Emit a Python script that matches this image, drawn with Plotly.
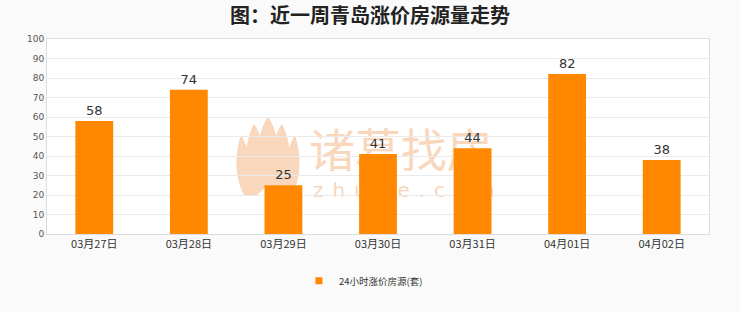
import plotly.graph_objects as go
import base64

categories = ["03月27日", "03月28日", "03月29日", "03月30日", "03月31日", "04月01日", "04月02日"]
values = [58, 74, 25, 41, 44, 82, 38]
series_name = "24小时涨价房源(套)"
title_text = "图：近一周青岛涨价房源量走势"
y_ticks = list(range(0, 101, 10))

wm = "#f8d7bc"
svg = f'''<svg xmlns="http://www.w3.org/2000/svg" width="275" height="85" viewBox="0 0 275 85">
<g fill="{wm}">
<path d="M33 2 C44 16 46 45 40 80 L26 80 C20 45 22 16 33 2 Z"/>
<path d="M19 9 C29 22 31 50 27 80 L16 80 C8 55 9 28 19 9 Z"/>
<path d="M47 9 C57 28 58 55 50 80 L39 80 C35 50 37 22 47 9 Z"/>
<path d="M6 20 C15 34 18 58 17 80 L9 80 C0 64 -1 40 6 20 Z"/>
<path d="M60 20 C67 40 66 64 57 80 L49 80 C48 58 51 34 60 20 Z"/>
</g>
<path d="M20 82 L33 70 L46 82 Z" fill="white"/>
<text x="74" y="52" font-family="Noto Sans CJK SC" font-size="46" fill="{wm}">诸葛找房</text>
<text x="78" y="82" font-family="DejaVu Sans" font-size="20" letter-spacing="9" fill="{wm}">zhuge.com</text>
</svg>'''
uri = "data:image/svg+xml;base64," + base64.b64encode(svg.encode("utf-8")).decode()

fig = go.Figure()
fig.add_trace(go.Bar(
    x=categories, y=values, name=series_name, showlegend=False,
    marker=dict(color="#ff8800", line=dict(width=0)),
    width=0.4,
    text=[str(v) for v in values], textposition="outside",
    textfont=dict(size=13, color="#333333", family="DejaVu Sans"),
    cliponaxis=False,
))
fig.add_trace(go.Scatter(
    x=[None], y=[None], mode="markers", name=series_name,
    marker=dict(symbol="square", size=7, color="#ff8800"),
))

fig.update_layout(
    width=740, height=312,
    margin=dict(l=47, r=31, t=39, b=78),
    paper_bgcolor="#fafafa",
    plot_bgcolor="#ffffff",
    title=dict(text="<b>" + title_text + "</b>", x=0.5, xanchor="center", y=0.95, yanchor="middle",
               font=dict(size=20, color="#222222", family="Noto Sans CJK SC")),
    showlegend=True,
    legend=dict(orientation="h", x=0.478, xanchor="center", y=-0.24, yanchor="middle",
                font=dict(size=9.5, color="#333333", family="Noto Sans CJK SC"),
                bgcolor="rgba(0,0,0,0)", itemwidth=30),
    images=[dict(source=uri, xref="paper", yref="paper", x=0.284, y=0.61,
                 sizex=0.415, sizey=0.436, sizing="stretch", layer="below",
                 xanchor="left", yanchor="top")],
)
fig.update_xaxes(showline=True, linecolor="#dddddd", mirror=True, showgrid=False,
                 ticks="", tickfont=dict(size=11, color="#333333", family="Noto Sans CJK SC"))
fig.update_yaxes(range=[0, 100], tickvals=y_ticks, showline=True, linecolor="#dddddd", mirror=True,
                 gridcolor="#eaeaea", zeroline=False, ticks="",
                 tickfont=dict(size=9, color="#555555", family="DejaVu Sans"))

fig.write_html("out.html")
